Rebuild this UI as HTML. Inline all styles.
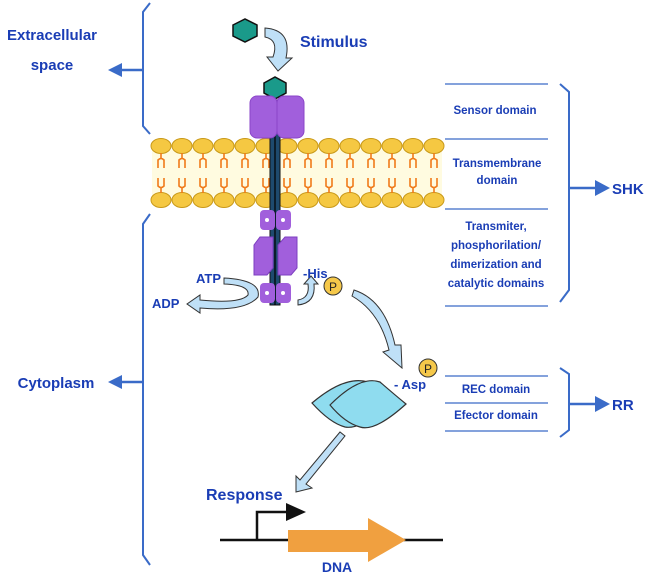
<!DOCTYPE html>
<html><head><meta charset="utf-8"><style>
body{margin:0;background:#fff}
svg{display:block}
text{font-family:"Liberation Sans",sans-serif;font-weight:bold;fill:#1a3db5}
</style></head><body>
<svg width="645" height="575" viewBox="0 0 645 575" xmlns="http://www.w3.org/2000/svg">
<defs>
<g id="lip">
<ellipse cx="0" cy="0" rx="10" ry="7.5" fill="#f5c842" stroke="#c99a1a" stroke-width="1"/>
<ellipse cx="0" cy="54" rx="10" ry="7.5" fill="#f5c842" stroke="#c99a1a" stroke-width="1"/>
<path d="M0 7 V12 M-3 22 V14 Q0 11 3 14 V22 M0 47 V42 M-3 32 V40 Q0 43 3 40 V32" stroke="#f07a1a" stroke-width="1.6" fill="none"/>
</g>
</defs>
<rect x="152" y="150" width="290" height="46" fill="#fffbe0"/>
<use href="#lip" x="161" y="146"/><use href="#lip" x="182" y="146"/><use href="#lip" x="203" y="146"/><use href="#lip" x="224" y="146"/><use href="#lip" x="245" y="146"/><use href="#lip" x="266" y="146"/><use href="#lip" x="287" y="146"/><use href="#lip" x="308" y="146"/><use href="#lip" x="329" y="146"/><use href="#lip" x="350" y="146"/><use href="#lip" x="371" y="146"/><use href="#lip" x="392" y="146"/><use href="#lip" x="413" y="146"/><use href="#lip" x="434" y="146"/>
<path d="M150 3 L143 12 V126 L150 134" stroke="#3a6bc8" stroke-width="2" fill="none"/>
<path d="M143 70 H122" stroke="#3a6bc8" stroke-width="2.5"/><path d="M122 63 L108 70 L122 77Z" fill="#3a6bc8"/>
<path d="M150 214 L143 224 V555 L150 565" stroke="#3a6bc8" stroke-width="2" fill="none"/>
<path d="M143 382 H122" stroke="#3a6bc8" stroke-width="2.5"/><path d="M122 375 L108 382 L122 389Z" fill="#3a6bc8"/>
<text x="52" y="40" font-size="15" text-anchor="middle">Extracellular</text>
<text x="52" y="70" font-size="15" text-anchor="middle">space</text>
<text x="56" y="388" font-size="15" text-anchor="middle">Cytoplasm</text>
<polygon points="233,25 245,19 257,25 257,36 245,42 233,36" fill="#1a9a8a" stroke="#111" stroke-width="1.5"/>
<path d="M265 28 Q292 30 286 58 L292 58 L278 71 L267 57 L273 57 Q279 40 265 37Z" fill="#bfe0f7" stroke="#333" stroke-width="1"/>
<text x="300" y="47" font-size="16">Stimulus</text>
<polygon points="264,83 275,77 286,83 286,93 275,99 264,93" fill="#1a9a8a" stroke="#111" stroke-width="1.5"/>
<rect x="270" y="100" width="10" height="205" fill="#1e4a6e" stroke="#111" stroke-width="1"/>
<line x1="275" y1="100" x2="275" y2="305" stroke="#000" stroke-width="1.2"/>
<rect x="250" y="96" width="27" height="42" rx="7" fill="#a15fdc" stroke="#8a45c8"/>
<rect x="277" y="96" width="27" height="42" rx="7" fill="#a15fdc" stroke="#8a45c8"/>
<rect x="260" y="210" width="15" height="20" rx="4" fill="#a15fdc"/><rect x="276" y="210" width="15" height="20" rx="4" fill="#a15fdc"/>
<circle cx="267" cy="220" r="2" fill="#fff"/><circle cx="283" cy="220" r="2" fill="#fff"/>
<polygon points="254,245 260,237 273,237 273,268 267,275 254,275" fill="#a15fdc" stroke="#7d3fc0"/>
<polygon points="278,245 285,237 297,237 297,268 291,275 278,275" fill="#a15fdc" stroke="#7d3fc0"/>
<rect x="260" y="283" width="15" height="20" rx="4" fill="#a15fdc"/><rect x="276" y="283" width="15" height="20" rx="4" fill="#a15fdc"/>
<circle cx="267" cy="293" r="2" fill="#fff"/><circle cx="283" cy="293" r="2" fill="#fff"/>
<text x="196" y="283" font-size="13">ATP</text>
<text x="152" y="308" font-size="13">ADP</text>
<path d="M224 278 Q262 280 258 297 Q245 312 200 308 L200 313 L187 304 L200 295 L200 300 Q240 304 248 295 Q250 285 224 284Z" fill="#bfe0f7" stroke="#333" stroke-width="1"/>
<path d="M298 300 Q310 298 308 284 L304 284 L311 276 L318 284 L314 284 Q316 303 298 305Z" fill="#bfe0f7" stroke="#333" stroke-width="1"/>
<text x="303" y="278" font-size="13">-His</text>
<circle cx="333" cy="286" r="9" fill="#f5c84a" stroke="#333"/><text x="333" y="291" font-size="12" text-anchor="middle" style="fill:#222;font-weight:normal">P</text>
<path d="M354 290 Q385 300 395 345 L401 345 L402 368 L383 352 L389 350 Q380 312 352 296Z" fill="#bfe0f7" stroke="#333" stroke-width="1"/>
<circle cx="428" cy="368" r="9" fill="#f5c84a" stroke="#333"/><text x="428" y="373" font-size="12" text-anchor="middle" style="fill:#222;font-weight:normal">P</text>
<text x="394" y="389" font-size="13">- Asp</text>
<path d="M312 403 Q345 375 368 382 Q385 395 392 404 Q360 430 345 427 Q330 423 312 403Z" fill="#8fdcef" stroke="#333" stroke-width="1.2"/>
<path d="M330 405 Q360 375 380 382 Q395 395 406 404 Q375 432 360 427 Q345 423 330 405Z" fill="#8fdcef" stroke="#333" stroke-width="1.2"/>
<path d="M340 432 L300 480 L296 476 L296 492 L312 488 L306 484 L345 436Z" fill="#bfe0f7" stroke="#333" stroke-width="1"/>
<text x="206" y="500" font-size="16">Response</text>
<line x1="220" y1="540" x2="443" y2="540" stroke="#111" stroke-width="2.5"/>
<path d="M257 540 V512 H286" stroke="#111" stroke-width="2.5" fill="none"/>
<polygon points="286,503 306,512 286,521" fill="#111"/>
<polygon points="288,530 368,530 368,518 406,540 368,562 368,552 288,552" fill="#f0a040"/>
<text x="337" y="572" font-size="14" text-anchor="middle">DNA</text>
<g stroke="#3a6bc8" stroke-width="1.3">
<line x1="445" y1="84" x2="548" y2="84"/><line x1="445" y1="139" x2="548" y2="139"/><line x1="445" y1="209" x2="548" y2="209"/><line x1="445" y1="306" x2="548" y2="306"/>
<line x1="445" y1="376" x2="548" y2="376"/><line x1="445" y1="403" x2="548" y2="403"/><line x1="445" y1="431" x2="548" y2="431"/>
</g>
<g font-size="11.5" text-anchor="middle">
<text x="495" y="114">Sensor domain</text>
<text x="497" y="167">Transmembrane</text><text x="497" y="184">domain</text>
<text x="496" y="230">Transmiter,</text><text x="496" y="249">phosphorilation/</text><text x="496" y="268">dimerization and</text><text x="496" y="287">catalytic domains</text>
<text x="496" y="393">REC domain</text><text x="496" y="419">Efector domain</text>
</g>
<path d="M560 84 L569 92 V290 L560 302" stroke="#3a6bc8" stroke-width="2" fill="none"/>
<path d="M569 188 H596" stroke="#3a6bc8" stroke-width="2.5"/><polygon points="595,180 610,188 595,196" fill="#3a6bc8"/>
<text x="612" y="194" font-size="15">SHK</text>
<path d="M560 368 L569 374 V430 L560 437" stroke="#3a6bc8" stroke-width="2" fill="none"/>
<path d="M569 404 H596" stroke="#3a6bc8" stroke-width="2.5"/><polygon points="595,396 610,404 595,412" fill="#3a6bc8"/>
<text x="612" y="410" font-size="15">RR</text>
</svg>
</body></html>
